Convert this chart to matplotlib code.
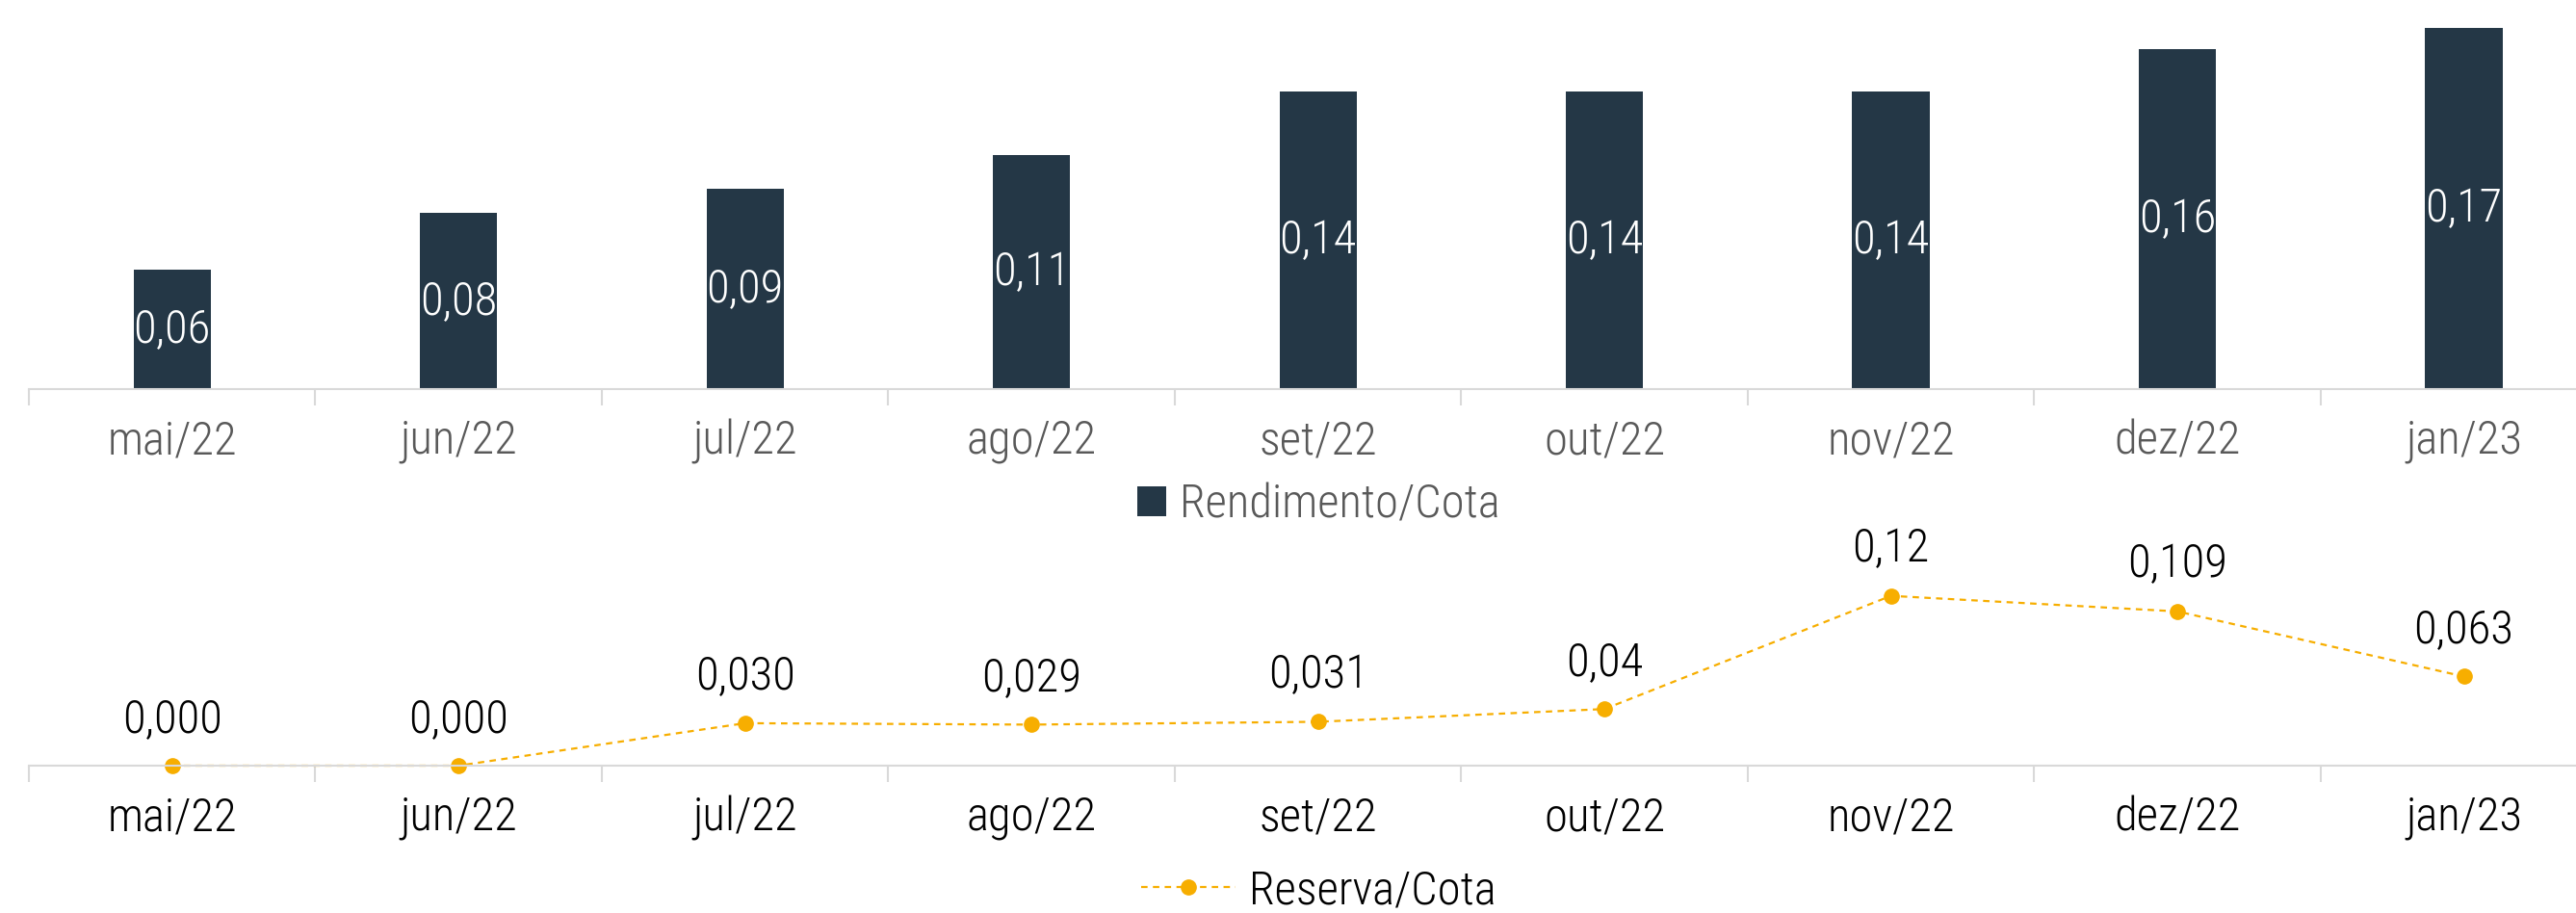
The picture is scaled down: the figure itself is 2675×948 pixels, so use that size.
import numpy as np
import matplotlib
matplotlib.use('Agg')
import matplotlib.pyplot as plt
from matplotlib import font_manager

months = ['mai/22', 'jun/22', 'jul/22', 'ago/22', 'set/22', 'out/22', 'nov/22', 'dez/22', 'jan/23']
rendimento = [0.056, 0.083, 0.094, 0.110, 0.140, 0.140, 0.140, 0.160, 0.170]
reserva = [0.000, 0.000, 0.030, 0.029, 0.031, 0.040, 0.120, 0.109, 0.063]
reserva_labels = ['0,000', '0,000', '0,030', '0,029', '0,031', '0,04', '0,12', '0,109', '0,063']

NAVY = '#243746'
GOLD = '#F7AE00'
AXIS_GRAY = '#D9D9D9'
TEXT_GRAY = '#595959'

# narrow font if there is one, the original uses a condensed DIN-like face
installed = {f.name for f in font_manager.fontManager.ttflist}
font = 'DejaVu Sans'
for fam in ['Roboto Condensed', 'Liberation Sans Narrow', 'Roboto', 'Lato']:
    if fam in installed:
        font = fam
        break
plt.rcParams['font.family'] = [font, 'DejaVu Sans']

fs = 35
x = np.arange(len(months))

fig = plt.figure(figsize=(26.75, 9.48), dpi=100)

# top panel: bars
ax1 = fig.add_axes([0.0112, 0.5738, 1.0009, 0.4262])
ax1.bar(x, rendimento, width=0.27, color=NAVY, label='Rendimento/Cota')
for i, v in enumerate(rendimento):
    ax1.text(i, v / 2, f'{v:.2f}'.replace('.', ','), ha='center', va='center',
             color='white', fontsize=fs, fontweight='light')
ax1.set_ylim(0, 0.183)
ax1.set_xlim(-0.5, len(months) - 0.5)

# bottom panel: line
ax2 = fig.add_axes([0.0112, 0.1614, 1.0009, 0.2743])
ax2.patch.set_visible(False)  # so it doesn't hide the top legend
ax2.plot(x, reserva, color=GOLD, ls='--', lw=1.6, dashes=(3, 2.5), marker='o', ms=11,
         clip_on=False, label='Reserva/Cota')
for i, (v, lab) in enumerate(zip(reserva, reserva_labels)):
    ax2.annotate(lab, (i, v), xytext=(0, 35), textcoords='offset points',
                 ha='center', va='center', color='black', fontsize=fs, fontweight='light')
ax2.set_ylim(0, 0.177)
ax2.set_xlim(-0.5, len(months) - 0.5)

for ax, lab_color in [(ax1, TEXT_GRAY), (ax2, 'black')]:
    for side in ['top', 'right', 'left']:
        ax.spines[side].set_visible(False)
    ax.spines['bottom'].set_color(AXIS_GRAY)
    ax.spines['bottom'].set_linewidth(1.5)
    ax.set_yticks([])
    ax.set_xticks(x)
    ax.set_xticklabels(months, fontsize=fs, color=lab_color, fontweight='light')
    ax.set_xticks(np.arange(-0.5, len(months), 1), minor=True)
    ax.tick_params(axis='x', which='major', length=0, pad=22)
    ax.tick_params(axis='x', which='minor', length=12, width=1.5, color=AXIS_GRAY)

ax1.legend(loc='center', bbox_to_anchor=(0.512, 0.447), bbox_transform=fig.transFigure,
           frameon=False, labelcolor=TEXT_GRAY, handlelength=0.6,
           handleheight=0.6, handletextpad=0.3, prop={'weight': 'light', 'size': fs})
ax2.legend(loc='center', bbox_to_anchor=(0.512, 0.024), bbox_transform=fig.transFigure,
           frameon=False, labelcolor='black', handlelength=2.0, handletextpad=0.3,
           numpoints=1, prop={'weight': 'light', 'size': fs})

fig.savefig('out.png', dpi=100)
